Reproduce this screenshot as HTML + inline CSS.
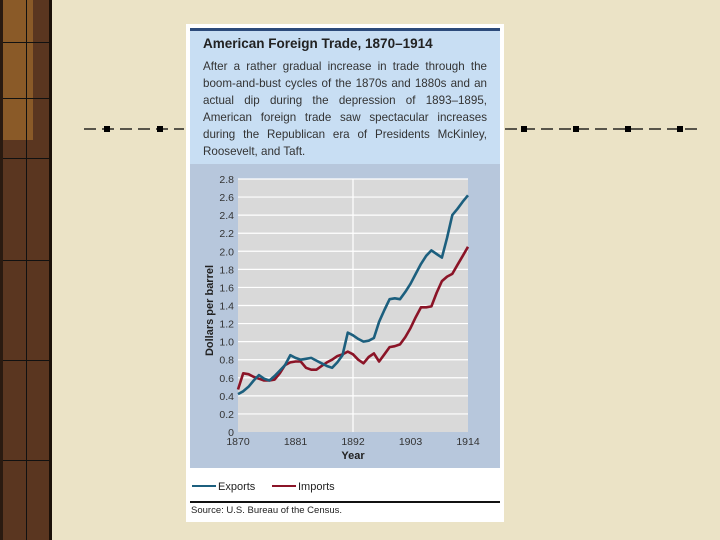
<!DOCTYPE html>
<html><head><meta charset="utf-8"><style>
body{margin:0;width:720px;height:540px;overflow:hidden;background:#ebe3c6;font-family:"Liberation Sans",sans-serif;position:relative}
.abs{position:absolute}
</style></head><body>
<div class="abs" style="left:0;top:0;width:52px;height:540px;background:#5a3620;border-left:3px solid #2a1a10;border-right:3px solid #1a1008;box-sizing:border-box">
  <div class="abs" style="left:0;top:0;width:30px;height:140px;background:#8a5a28"></div>
  <div class="abs" style="left:23px;top:0;width:1px;height:540px;background:#111"></div>
  <div class="abs" style="left:0;top:42px;width:46px;height:1px;background:#111"></div>
  <div class="abs" style="left:0;top:98px;width:46px;height:1px;background:#111"></div>
  <div class="abs" style="left:0;top:158px;width:46px;height:1px;background:#111"></div>
  <div class="abs" style="left:0;top:260px;width:46px;height:1px;background:#111"></div>
  <div class="abs" style="left:0;top:360px;width:46px;height:1px;background:#111"></div>
  <div class="abs" style="left:0;top:460px;width:46px;height:1px;background:#111"></div>
</div>
<svg class="abs" style="left:0;top:0" width="720" height="540">
  <line x1="84" y1="129" x2="184" y2="129" stroke="#000" stroke-width="1.2" stroke-dasharray="12,6"/>
  <rect x="104" y="126" width="6" height="6" fill="#000"/><rect x="157" y="126" width="6" height="6" fill="#000"/>
  <line x1="505" y1="129" x2="700" y2="129" stroke="#000" stroke-width="1.2" stroke-dasharray="12,6"/>
  <rect x="521" y="126" width="6" height="6" fill="#000"/><rect x="573" y="126" width="6" height="6" fill="#000"/>
  <rect x="625" y="126" width="6" height="6" fill="#000"/><rect x="677" y="126" width="6" height="6" fill="#000"/>
</svg>
<div class="abs" style="left:186px;top:24px;width:318px;height:498px;background:#fff">
  <div class="abs" style="left:4px;top:4px;width:310px;height:3px;background:#2c4a7a"></div>
  <div class="abs" style="left:4px;top:7px;width:310px;height:133px;background:#c8def3">
    <div class="abs" style="left:13px;top:5px;font-weight:bold;font-size:13.5px;color:#222">American Foreign Trade, 1870–1914</div>
    <div class="abs" style="left:13px;top:27px;width:284px;font-size:11.6px;line-height:17px;color:#333;text-align:justify">After a rather gradual increase in trade through the boom-and-bust cycles of the 1870s and 1880s and an actual dip during the depression of 1893–1895, American foreign trade saw spectacular increases during the Republican era of Presidents McKinley, Roosevelt, and Taft.</div>
  </div>
  <div class="abs" style="left:4px;top:140px;width:310px;height:304px;background:#b7c7dc"></div>
  <svg class="abs" style="left:0;top:0" width="318" height="498" id="chart"></svg>
  <div class="abs" style="left:4px;top:477px;width:310px;height:2px;background:#111"></div>
  <div class="abs" style="left:5px;top:481px;font-size:9.5px;color:#222">Source: U.S. Bureau of the Census.</div>
</div>
<script>
const years=[];for(let y=1870;y<=1914;y++)years.push(y);
const exportsVals=[.42,.45,.50,.57,.63,.59,.57,.62,.68,.74,.85,.82,.80,.81,.82,.79,.76,.73,.71,.77,.85,1.10,1.07,1.03,1.00,1.01,1.04,1.22,1.35,1.47,1.48,1.47,1.55,1.64,1.75,1.86,1.95,2.01,1.97,1.93,2.15,2.40,2.47,2.55,2.62];
const importsVals=[.47,.65,.64,.61,.59,.57,.57,.58,.65,.74,.77,.78,.78,.71,.69,.69,.73,.77,.80,.84,.86,.89,.86,.80,.76,.83,.87,.78,.86,.94,.95,.97,1.05,1.15,1.27,1.38,1.38,1.39,1.54,1.67,1.72,1.75,1.85,1.95,2.05];
const yTicks=[0,0.2,0.4,0.6,0.8,1.0,1.2,1.4,1.6,1.8,2.0,2.2,2.4,2.6,2.8];
const yTickLabels=["0","0.2","0.4","0.6","0.8","1.0","1.2","1.4","1.6","1.8","2.0","2.2","2.4","2.6","2.8"];
const xTicks=[1870,1881,1892,1903,1914];
const NS="http://www.w3.org/2000/svg";
const svg=document.getElementById('chart');
const L=52,R=282,T=155,B=408;
const xs=y=>L+(y-1870)/44*(R-L);
const ys=v=>B-v/2.8*(B-T);
function mk(t,a){const e=document.createElementNS(NS,t);for(const k in a)e.setAttribute(k,a[k]);svg.appendChild(e);return e;}
const bg=mk('rect',{x:L,y:T,width:R-L,height:B-T,fill:'#d9d9d9'});


yTicks.forEach((v,i)=>{
  if(v>0){const g=mk('line',{x1:L,x2:R,y1:ys(v),y2:ys(v),stroke:'#fff','stroke-width':1.2});
  
  }
  const t=mk('text',{x:L-4,y:ys(v)+4,'text-anchor':'end','font-size':10.5,fill:'#333','font-family':'Liberation Sans, sans-serif'});
  t.textContent=yTickLabels[i];
  
  
});
const vl=mk('line',{x1:xs(1892),x2:xs(1892),y1:T,y2:B,stroke:'#fff','stroke-width':1.2});


xTicks.forEach(x=>{
  const t=mk('text',{x:xs(x),y:B+13,'text-anchor':'middle','font-size':10.5,fill:'#333','font-family':'Liberation Sans, sans-serif'});
  t.textContent=x;
  
  
});
const xt=mk('text',{x:xs(1892),y:B+27,'text-anchor':'middle','font-size':11,'font-weight':'bold',fill:'#222','font-family':'Liberation Sans, sans-serif'});
xt.textContent='Year';


const yt=mk('text',{x:0,y:0,transform:`translate(27,${(T+B)/2+5}) rotate(-90)`,'text-anchor':'middle','font-size':11,'font-weight':'bold',fill:'#222','font-family':'Liberation Sans, sans-serif'});
yt.textContent='Dollars per barrel';


function series(vals,col,name){
  const d=vals.map((v,i)=>(i?'L':'M')+xs(years[i]).toFixed(1)+','+ys(v).toFixed(1)).join('');
  const p=mk('path',{d:d,fill:'none',stroke:col,'stroke-width':2.6,'stroke-linejoin':'round'});
  
  
}
series(importsVals,'#8b1427','imports-line');
series(exportsVals,'#1c5f7e','exports-line');
// legend
const le1=mk('line',{x1:6,x2:30,y1:462,y2:462,stroke:'#1c5f7e','stroke-width':2});


const lt1=mk('text',{x:32,y:466,'font-size':11,fill:'#222','font-family':'Liberation Sans, sans-serif'});
lt1.textContent='Exports';


const le2=mk('line',{x1:86,x2:110,y1:462,y2:462,stroke:'#8b1427','stroke-width':2});


const lt2=mk('text',{x:112,y:466,'font-size':11,fill:'#222','font-family':'Liberation Sans, sans-serif'});
lt2.textContent='Imports';


</script>
</body></html>
